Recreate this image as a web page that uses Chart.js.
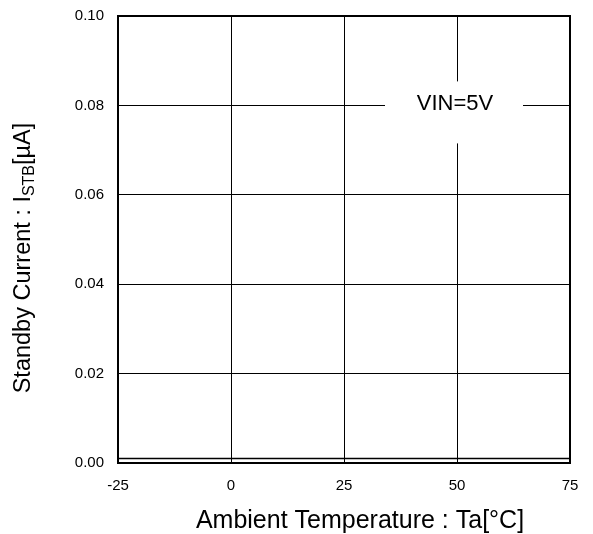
<!DOCTYPE html>
<html><head><meta charset="utf-8">
<script src="https://cdn.jsdelivr.net/npm/chart.js@4"></script>
<style>html,body{margin:0;padding:0;background:#fff}#wrap{width:593px;height:534px}</style>
</head><body><div id="wrap"><canvas id="c" width="593" height="534"></canvas></div>
<script>
const temperatures = [-25, 0, 25, 50, 75];
const standbyCurrent = [0.001, 0.001, 0.001, 0.001, 0.001];
const xTicks = [-25, 0, 25, 50, 75];
const yTicks = [0, 0.02, 0.04, 0.06, 0.08, 0.10];
const xTitle = 'Ambient Temperature : Ta[°C]';
const yTitleMain = 'Standby Current : I';
const yTitleSub = 'STB';
const yTitleEnd = '[µA]';
const annotationText = 'VIN=5V';
const annotationAt = {x: 50, y: 0.08};

const FONT = '"Liberation Sans", Arial, sans-serif';

const decor = {
  id: 'decor',
  beforeDatasetsDraw(chart) {
    const {ctx, chartArea: a, scales} = chart;
    const cx = scales.x.getPixelForValue(annotationAt.x);
    const cy = scales.y.getPixelForValue(annotationAt.y);
    ctx.save();
    ctx.fillStyle = '#fff';
    ctx.fillRect(cx - 72, cy - 24, 138, 62);
    ctx.fillStyle = '#000';
    ctx.font = '22px ' + FONT;
    ctx.textAlign = 'center';
    ctx.textBaseline = 'middle';
    ctx.fillText(annotationText, cx - 2, cy - 1);
    ctx.restore();
  },
  afterDraw(chart) {
    const {ctx, chartArea: a} = chart;
    ctx.save();
    ctx.strokeStyle = '#000';
    ctx.lineWidth = 2;
    ctx.strokeRect(a.left, a.top, a.right - a.left, a.bottom - a.top);
    // x title
    ctx.fillStyle = '#000';
    ctx.font = '25px ' + FONT;
    ctx.textAlign = 'center';
    ctx.textBaseline = 'middle';
    ctx.fillText(xTitle, 360, 521);
    // y title rotated with subscript
    ctx.translate(22, 258);
    ctx.rotate(-Math.PI / 2);
    const big = '23.5px ' + FONT, small = '16px ' + FONT;
    ctx.font = big; const w1 = ctx.measureText(yTitleMain).width;
    const w3 = ctx.measureText(yTitleEnd).width;
    ctx.font = small; const w2 = ctx.measureText(yTitleSub).width;
    let x = -(w1 + w2 + w3) / 2;
    ctx.textAlign = 'left';
    ctx.textBaseline = 'alphabetic';
    ctx.font = big; ctx.fillText(yTitleMain, x, 8); x += w1;
    ctx.font = small; ctx.fillText(yTitleSub, x, 12); x += w2;
    ctx.font = big; ctx.fillText(yTitleEnd, x, 8);
    ctx.restore();
  }
};

new Chart(document.getElementById('c'), {
  type: 'line',
  data: {
    datasets: [{
      data: temperatures.map((t, i) => ({x: t, y: standbyCurrent[i]})),
      borderColor: '#000',
      borderWidth: 1.5,
      pointRadius: 0,
      fill: false,
      tension: 0
    }]
  },
  options: {
    responsive: false,
    animation: false,
    devicePixelRatio: 1,
    layout: {padding: {top: 16, right: 23, left: 0, bottom: 0}},
    plugins: {legend: {display: false}, tooltip: {enabled: false}},
    scales: {
      x: {
        type: 'linear', min: -25, max: 75,
        afterBuildTicks: s => { s.ticks = xTicks.map(v => ({value: v})); },
        afterFit: s => { s.height = 71; s.paddingLeft = 0; s.paddingRight = 0; },
        grid: {color: '#000', lineWidth: 1, drawTicks: false},
        border: {display: false},
        ticks: {padding: 14, color: '#000', font: {family: FONT, size: 15}, maxRotation: 0, callback: v => String(v)}
      },
      y: {
        type: 'linear', min: 0, max: 0.1,
        afterBuildTicks: s => { s.ticks = yTicks.map(v => ({value: v})); },
        afterFit: s => { s.width = 118; s.paddingTop = 0; s.paddingBottom = 0; },
        grid: {color: '#000', lineWidth: 1, drawTicks: false},
        border: {display: false},
        ticks: {padding: 14, color: '#000', font: {family: FONT, size: 15}, callback: v => v.toFixed(2)}
      }
    }
  },
  plugins: [decor]
});
</script>
</body></html>
